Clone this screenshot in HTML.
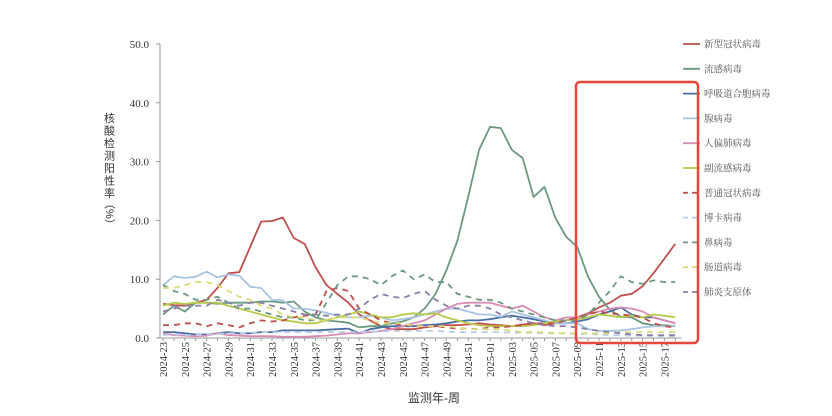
<!DOCTYPE html>
<html><head><meta charset="utf-8"><style>
body{margin:0;background:#fff;}
svg{display:block;font-family:"Liberation Serif","Noto Serif CJK SC",serif;}
</style></head><body>
<svg id="chart" width="832" height="416" viewBox="0 0 832 416">
<g id="axes"></g><g id="series"></g><g id="legend"></g>
<rect x="576" y="82" width="122" height="261" rx="4" fill="none" stroke="#e8463a" stroke-width="2.5"/>
<text x="434" y="402" font-size="12" text-anchor="middle" fill="#333" font-family="Liberation Sans,Noto Sans CJK SC,sans-serif">监测年-周</text>
<text transform="translate(104,122)" font-size="11" fill="#333" font-family="Liberation Sans,Noto Sans CJK SC,sans-serif">
<tspan x="0" y="0">核</tspan><tspan x="0" y="12.5">酸</tspan><tspan x="0" y="25">检</tspan><tspan x="0" y="37.5">测</tspan><tspan x="0" y="50">阳</tspan><tspan x="0" y="62.5">性</tspan><tspan x="0" y="75">率</tspan></text>
<text transform="translate(106,198) rotate(90)" font-size="11" fill="#333" font-family="Liberation Sans,Noto Sans CJK SC,sans-serif">（%）</text>
</svg>
<script>
const yTicks=[0,10,20,30,40,50];
const seriesNames=["新型冠状病毒","流感病毒","呼吸道合胞病毒","腺病毒","人偏肺病毒","副流感病毒","普通冠状病毒","博卡病毒","鼻病毒","肠道病毒","肺炎支原体"];
const covid=[5.8,5.6,5.5,6,6.5,8.5,11,11.2,15.5,19.8,19.9,20.5,17,16,12,9,7.5,6,4,3,2,1.5,1.5,1.5,1.8,2,2.2,2.2,2.3,2.5,2.3,2.2,2,2.3,2.5,2.2,2.5,3,3.5,4.2,5.2,6,7.2,7.5,8.8,11,13.5,16];
const flu=[4,5.5,4.5,6,6,5.8,6,6,6,6.2,6.2,6,6.2,4.5,3.5,3,2.8,2.6,1.8,2,2,2.5,2.8,3.5,5,7.5,11.5,16.5,24,32,35.9,35.7,32,30.6,24,25.7,20.4,17.2,15.5,10.4,7,4.8,3.6,3.5,2.5,2.2,2.2,2];
const rsv=[1,1,0.8,0.6,0.6,0.8,1,0.8,0.8,1,1,1.3,1.3,1.3,1.3,1.4,1.5,1.6,0.8,1.5,1.8,2,2,2,2.2,2.3,2.5,2.8,3,3,3.2,3.5,3.8,3.5,3.2,2.8,2.5,2.5,2.8,3.2,4,4.5,5.2,4,3.5,3.5,3,2.5];
const adeno=[9,10.5,10.2,10.4,11.3,10.3,10.8,10.6,8.7,8.5,6.5,6.4,5,5,4.7,4.3,3.8,3.5,3.5,3.8,3.5,3,3.2,3.5,4,4.5,5,5,4.5,4,4,3.6,4.5,4,3.5,3,2.5,2.5,2.5,1.5,1.2,1.2,1.3,1.5,1.8,2,2,2];
const hmpv=[0.8,0.5,0.4,0.3,0.4,0.8,0.5,0.4,0.3,0.3,0.3,0.2,0.2,0.2,0.3,0.4,0.6,0.8,0.8,1,1.2,1.5,2,2.5,3,4,5,5.8,6,6,6,5.5,5,5.5,4.5,3.5,3,3.5,3.5,4,4.5,5,5.2,5,4.5,3.5,3,2.5];
const piv=[5.5,6,5.8,6,6,6,5.5,5,4.5,4,3.5,3,2.8,2.5,2.5,3,3.5,4,4.5,4,3.5,3.5,4,4.2,4,4.2,3.5,3,2.5,2.2,2,2,2,2,2.2,2.5,2.8,3,3.2,3.5,4,3.8,3.5,3.8,3.5,4,3.8,3.5];
const hcov=[2.2,2.2,2.5,2.5,2,2.5,2.2,1.8,2.5,3,2.8,3,3.5,3.8,4,8,8.5,8,5,4,3,2.5,2.2,2.2,2,2,1.8,1.6,1.6,1.5,1.8,1.8,2,2.2,2.5,2.5,2.5,3,3.5,4,4.5,4.2,4,3.8,3.5,2.5,2,1.8];
const boca=[0.5,0.6,0.5,0.5,0.6,0.7,0.8,0.8,0.9,1,1,1,1,1,1,1,1,1,1,1.1,1.1,1.2,1.2,1.2,1.2,1.2,1.1,1,1,1,1,1,0.9,0.9,0.9,0.8,0.8,0.8,0.7,0.7,0.6,0.5,0.5,0.4,0.4,0.3,0.3,0.3];
const rhino=[9,8,7.5,6.5,6.5,7,6,5,5,4.5,4,3.5,3.5,3,3,6,9,10.5,10.5,10,9,10.5,11.5,10,10.8,9.5,9.5,7.5,7,6.5,6.5,6,5,4.5,4,3.5,3,3,3,4,6,8,10.5,9.5,9.2,9.8,9.5,9.5];
const entero=[8.5,8.5,9,9.5,9.5,9,8,7,6.5,5.5,5,4,3.5,3.5,3,3,3.5,3.5,3.5,3,2.5,2.5,2.5,2,2,2,2,1.8,1.5,1.5,1.5,1.5,1.2,1,1,1,0.8,0.8,0.8,0.8,0.8,0.8,1,1,1,1,1,1];
const myco=[4.5,5,5.5,5.5,5.5,6.5,6,5.5,6,6,5.5,5,4.5,4,4,3.8,4,4,5,6.5,7.5,7,6.8,7.5,8,6.5,5.5,5,5.5,5.5,5,4,3.5,3,2.5,2.2,2,2,1.8,1.5,1.2,1,0.8,0.6,0.5,0.5,0.5,0.5];
const seriesData=[covid,flu,rsv,adeno,hmpv,piv,hcov,boca,rhino,entero,myco];
const colors=["#c0504d","#6b9a80","#4a6fa5","#a9c4e2","#d98cb3","#b8c94a","#c0504d","#b8cce4","#6b9a80","#dada78","#8a80a8"];
const dashed=[false,false,false,false,false,false,true,true,true,true,true];
const weeks=[];
for(let w=23;w<=52;w++)weeks.push("2024-"+w);
for(let w=1;w<=18;w++)weeks.push("2025-"+(w<10?"0"+w:w));

const NS="http://www.w3.org/2000/svg";
const X0=163,STEP=10.9,Y0=338,YMAX=50,YTOP=44;
const xs=i=>X0+i*STEP;
const ys=v=>Y0-(v/YMAX)*(Y0-YTOP);
function mk(t,a,p){const e=document.createElementNS(NS,t);for(const k in a)e.setAttribute(k,a[k]);p.appendChild(e);return e;}
const axes=document.getElementById('axes');
const yl=mk('line',{x1:160,y1:YTOP,x2:160,y2:Y0,stroke:'#999','stroke-width':1},axes);


yTicks.forEach(v=>{
 const t=mk('text',{x:149,y:ys(v)+4,'font-size':11,'text-anchor':'end',fill:'#333'},axes);
 t.textContent=v.toFixed(1);
 
 
 const tk=mk('line',{x1:156,x2:160,y1:ys(v),y2:ys(v),stroke:'#999'},axes);
 
 
});
const xl=mk('line',{x1:160,y1:Y0,x2:xs(weeks.length-1)+6,y2:Y0,stroke:'#999'},axes);


weeks.forEach((w,i)=>{
 const tk=mk('line',{x1:xs(i),x2:xs(i),y1:Y0,y2:Y0+3,stroke:'#999'},axes);
 
 
 if(i%2===0){
  const t=mk('text',{transform:`translate(${xs(i)+4},${Y0+4}) rotate(-90)`,'font-size':10.5,'text-anchor':'end',fill:'#333'},axes);
  t.textContent=w;
  
  
 }
});
const sg=document.getElementById('series');
seriesData.forEach((d,k)=>{
 const pts=d.map((v,i)=>xs(i).toFixed(1)+","+ys(v).toFixed(1)).join(" ");
 const p=mk('polyline',{points:pts,fill:'none',stroke:colors[k],'stroke-width':1.8,'stroke-linejoin':'round'},sg);
 if(dashed[k])p.setAttribute('stroke-dasharray','6,5');
 
 
});
const lg=document.getElementById('legend');
seriesNames.forEach((n,k)=>{
 const y=44+k*24.8;
 const l=mk('line',{x1:683,x2:700,y1:y,y2:y,stroke:colors[k],'stroke-width':1.8},lg);
 if(dashed[k])l.setAttribute('stroke-dasharray','5,4');
 
 
 const t=mk('text',{x:704,y:y+3.5,'font-size':9.5,fill:'#555'},lg);
 t.textContent=n;
 
 
});
</script>
</body></html>
